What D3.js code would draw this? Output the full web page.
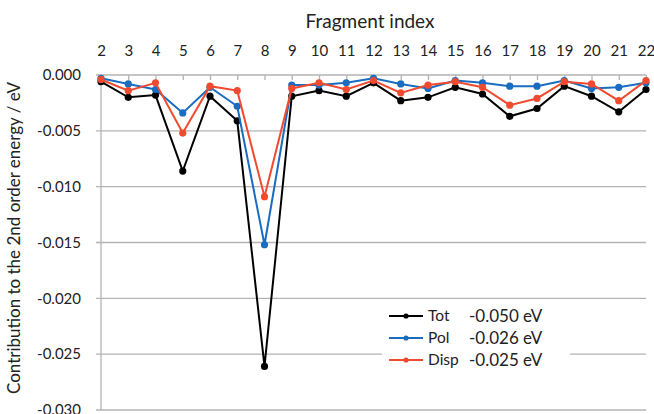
<!DOCTYPE html>
<html lang="en">
<head>
    <meta charset="UTF-8">
    <title>Fragment contributions</title>
    <script src="https://d3js.org/d3.v7.min.js"></script>
    <style>
        body { margin: 0; background: #fff; }
        text { font-family: Lato, "Open Sans", sans-serif; fill: #222; }
    </style>
</head>
<body>
    <div id="chart"></div>
    <script>
        // Data (eV)
        const fragments = [2, 3, 4, 5, 6, 7, 8, 9, 10, 11, 12, 13, 14, 15, 16, 17, 18, 19, 20, 21, 22];
        const tot  = [-0.0006, -0.0020, -0.0018, -0.0086, -0.0019, -0.0041, -0.0261, -0.0019, -0.0014, -0.0019, -0.0007,
                      -0.0023, -0.0020, -0.0011, -0.0017, -0.0037, -0.0030, -0.0010, -0.0019, -0.0033, -0.0013];
        const pol  = [-0.0003, -0.0008, -0.0013, -0.0034, -0.0011, -0.0028, -0.0152, -0.0009, -0.0009, -0.0007, -0.0003,
                      -0.0008, -0.0012, -0.0005, -0.0007, -0.0010, -0.0010, -0.0005, -0.0012, -0.0011, -0.0007];
        const disp = [-0.0004, -0.0014, -0.0007, -0.0052, -0.0010, -0.0014, -0.0109, -0.0012, -0.0007, -0.0013, -0.0005,
                      -0.0016, -0.0009, -0.0006, -0.0011, -0.0027, -0.0021, -0.0006, -0.0008, -0.0023, -0.0005];
        const yTicks = [0, -0.005, -0.010, -0.015, -0.020, -0.025, -0.030];
        const seriesNames = ['Tot', 'Pol', 'Disp'];
        const seriesTotals = ['-0.050 eV', '-0.026 eV', '-0.025 eV'];

        const width = 654, height = 414;
        const margin = { top: 75, right: 8, bottom: 4, left: 101 };
        const colors = ['#000000', '#1a6cc0', '#f04b30'];

        const svg = d3.select('#chart').append('svg')
            .attr('width', width)
            .attr('height', height);

        const x = d3.scalePoint()
            .domain(fragments)
            .range([margin.left, width - margin.right]);

        const y = d3.scaleLinear()
            .domain([0, -0.030])
            .range([margin.top, height - margin.bottom]);

        // horizontal gridlines
        svg.append('g')
            .selectAll('line')
            .data(yTicks)
            .join('line')
            .attr('x1', margin.left - 5)
            .attr('x2', width - margin.right)
            .attr('y1', d => y(d))
            .attr('y2', d => y(d))
            .attr('stroke', '#b3b3b3')
            .attr('stroke-width', 1.3);

        // vertical axis line
        svg.append('line')
            .attr('x1', margin.left).attr('x2', margin.left)
            .attr('y1', y(0)).attr('y2', y(-0.030))
            .attr('stroke', '#b3b3b3')
            .attr('stroke-width', 1.3);

        // y tick labels
        svg.append('g')
            .selectAll('text')
            .data(yTicks)
            .join('text')
            .attr('x', margin.left - 20)
            .attr('y', d => y(d))
            .attr('dy', '0.35em')
            .attr('text-anchor', 'end')
            .style('font-size', '15px')
            .text(d => d3.format('.3f')(d).replace('−', '-'));

        // top axis: ticks pointing down, labels above
        const xAxis = svg.append('g')
            .attr('transform', `translate(0,${y(0)})`)
            .call(d3.axisTop(x).tickSize(-5).tickPadding(19));
        xAxis.select('.domain').remove();
        xAxis.selectAll('.tick line').attr('stroke', '#b3b3b3').attr('stroke-width', 1.3);
        xAxis.selectAll('.tick text')
            .style('font-size', '15px')
            .style('font-family', 'Lato, "Open Sans", sans-serif')
            .attr('fill', '#222');

        svg.append('text')
            .attr('x', 370)
            .attr('y', 28)
            .attr('text-anchor', 'middle')
            .style('font-size', '19px')
            .text('Fragment index');

        svg.append('text')
            .attr('transform', 'translate(20,238) rotate(-90)')
            .attr('text-anchor', 'middle')
            .style('font-size', '17px')
            .text('Contribution to the 2nd order energy / eV');

        // legend background cutting the gridline
        svg.append('rect')
            .attr('x', 382).attr('y', 303)
            .attr('width', 188).attr('height', 68)
            .attr('fill', '#fff');

        const series = [tot, pol, disp];
        const line = d3.line()
            .x((d, i) => x(fragments[i]))
            .y(d => y(d));

        // draw in order Tot, Pol, Disp so red sits on top
        series.forEach((vals, s) => {
            const g = svg.append('g');
            g.append('path')
                .datum(vals)
                .attr('d', line)
                .attr('fill', 'none')
                .attr('stroke', colors[s])
                .attr('stroke-width', 2);
            g.selectAll('circle')
                .data(vals)
                .join('circle')
                .attr('cx', (d, i) => x(fragments[i]))
                .attr('cy', d => y(d))
                .attr('r', 3.6)
                .attr('fill', colors[s]);
        });

        // legend
        const legend = svg.append('g');
        seriesNames.forEach((name, s) => {
            const ly = 316 + s * 22;
            legend.append('line')
                .attr('x1', 389).attr('x2', 423)
                .attr('y1', ly).attr('y2', ly)
                .attr('stroke', colors[s])
                .attr('stroke-width', 2);
            legend.append('circle')
                .attr('cx', 406).attr('cy', ly).attr('r', 2.6)
                .attr('fill', colors[s]);
            legend.append('text')
                .attr('x', 428).attr('y', ly)
                .attr('dy', '0.3em')
                .style('font-size', '15.5px')
                .text(name);
            legend.append('text')
                .attr('x', 469).attr('y', ly)
                .attr('dy', '0.35em')
                .style('font-size', '17px')
                .text(seriesTotals[s]);
        });
    </script>
</body>
</html>
